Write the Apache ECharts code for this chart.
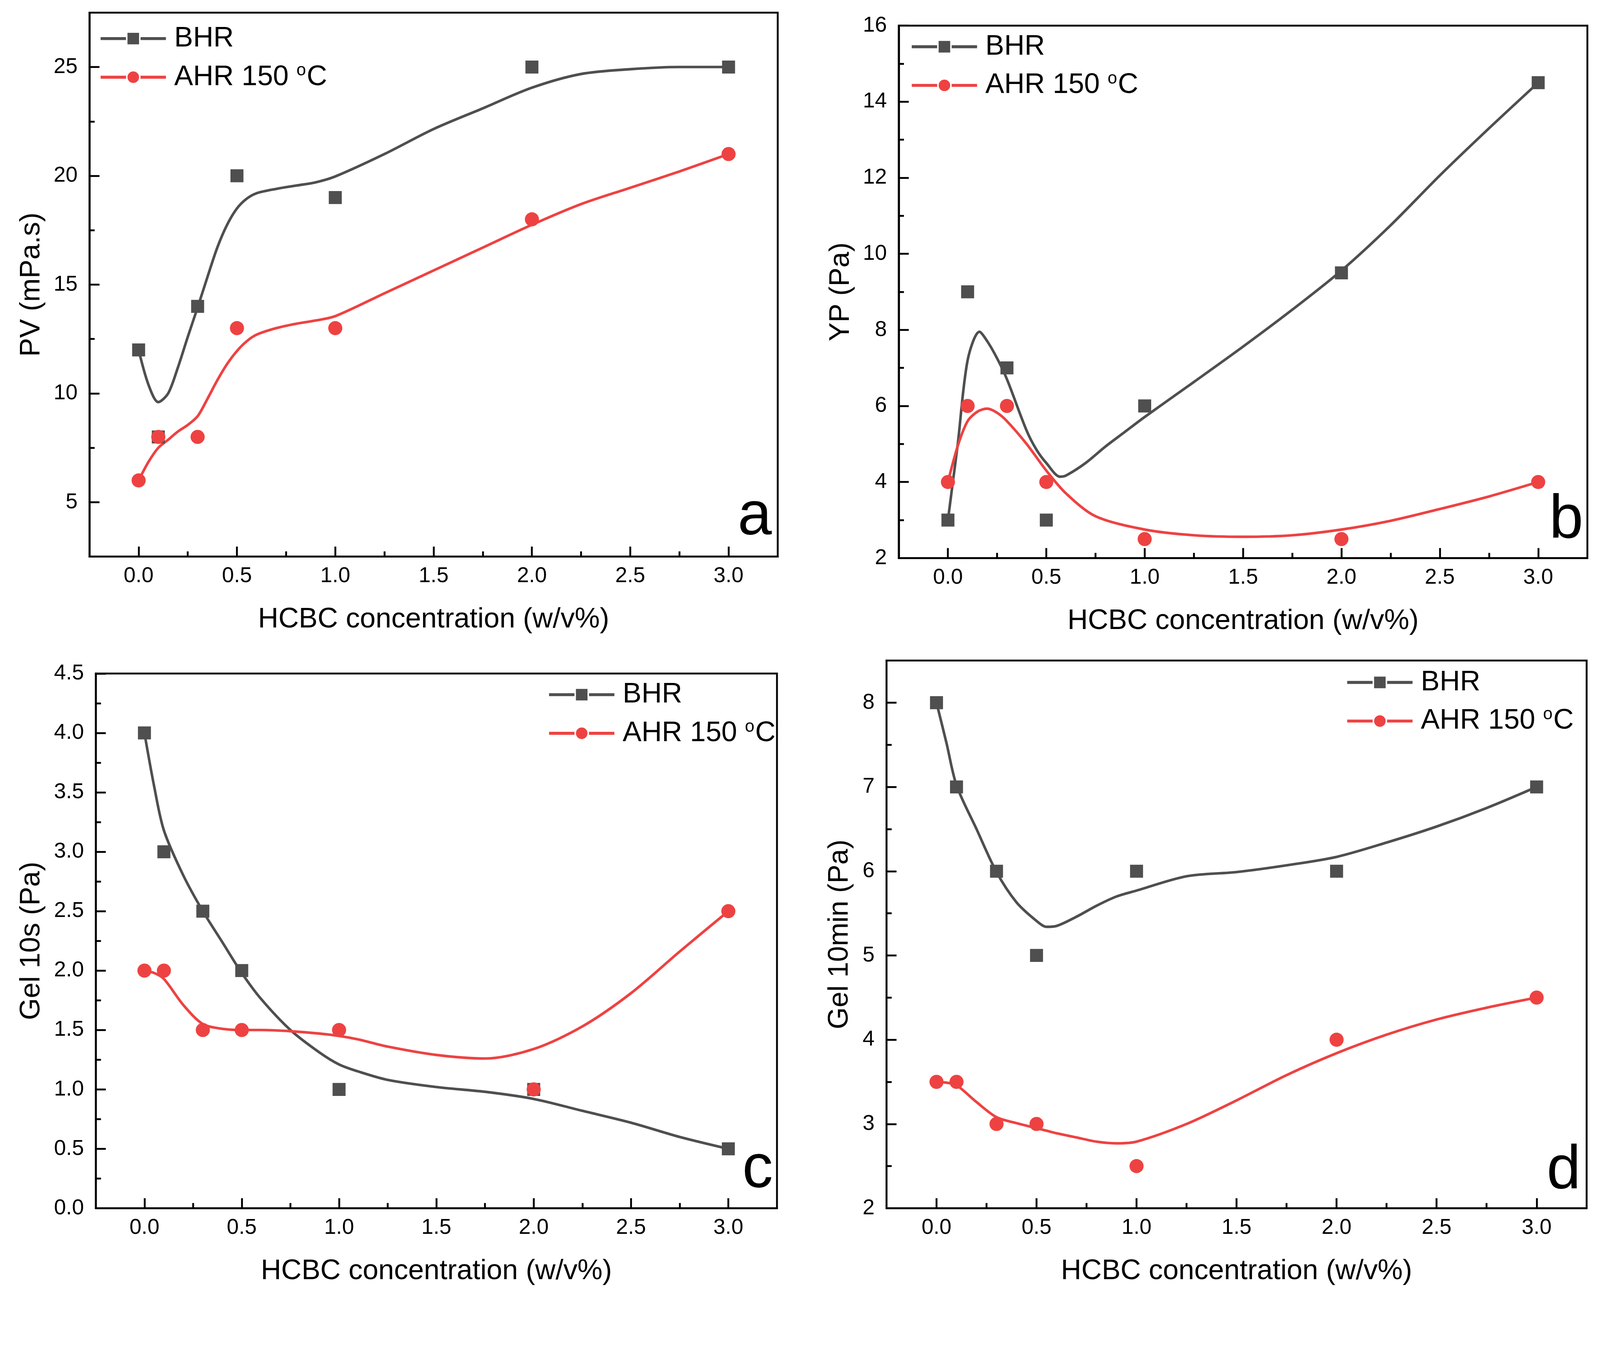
<!DOCTYPE html>
<html>
<head>
<meta charset="utf-8">
<script src="https://cdn.jsdelivr.net/npm/echarts@6/dist/echarts.min.js"></script>
<style>
html,body{margin:0;padding:0;background:#fff;overflow:hidden}
#main{width:100vw;height:100vh}
</style>
</head>
<body>
<div id="main"></div>
<script>
// measured points (HCBC concentration, w/v%)
var conc = [0, 0.1, 0.3, 0.5, 1, 2, 3];

var pvBhr = [12, 8, 14, 20, 19, 25, 25];
var pvAhr = [6, 8, 8, 13, 13, 18, 21];
var ypBhr = [3, 9, 7, 3, 6, 9.5, 14.5];
var ypAhr = [4, 6, 6, 4, 2.5, 2.5, 4];
var g10sBhr = [4, 3, 2.5, 2, 1, 1, 0.5];
var g10sAhr = [2, 2, 1.5, 1.5, 1.5, 1, 2.5];
var g10mBhr = [8, 7, 6, 5, 6, 6, 7];
var g10mAhr = [3.5, 3.5, 3, 3, 2.5, 4, 4.5];

// fitted curves
var pvFitX = [0, 0.05, 0.1, 0.15, 0.2, 0.25, 0.3, 0.35, 0.4, 0.45, 0.5, 0.55, 0.6, 0.7, 0.8, 0.9, 1.0, 1.25, 1.5, 1.75, 2.0, 2.25, 2.5, 2.75, 3.0];
var pvBhrFit = [12.0, 10.4, 9.6, 10.0, 11.2, 12.6, 13.95, 15.35, 16.7, 17.75, 18.5, 18.95, 19.2, 19.4, 19.55, 19.7, 19.97, 21.0, 22.15, 23.1, 24.05, 24.68, 24.9, 25.0, 25.0];
var pvAhrFit = [6.0, 6.85, 7.5, 7.87, 8.25, 8.55, 8.95, 9.75, 10.6, 11.35, 11.95, 12.4, 12.7, 13.0, 13.2, 13.35, 13.55, 14.6, 15.65, 16.7, 17.75, 18.7, 19.45, 20.2, 21.0];

var ypBhrX = [0, 0.025, 0.05, 0.1, 0.16, 0.2, 0.25, 0.3, 0.4, 0.45, 0.5, 0.57, 0.6, 0.7, 0.8, 0.9, 1.0, 1.25, 1.5, 1.75, 2.0, 2.25, 2.5, 2.75, 3.0];
var ypBhrFit = [3.0, 4.0, 5.0, 7.2, 7.95, 7.7, 7.25, 6.7, 5.35, 4.85, 4.5, 4.14, 4.17, 4.5, 4.93, 5.32, 5.71, 6.63, 7.56, 8.53, 9.56, 10.75, 12.06, 13.3, 14.5];
var ypAhrX = [0, 0.05, 0.1, 0.15, 0.2, 0.25, 0.3, 0.4, 0.5, 0.6, 0.75, 1.0, 1.25, 1.5, 1.75, 2.0, 2.25, 2.5, 2.75, 3.0];
var ypAhrFit = [4.0, 4.95, 5.6, 5.85, 5.93, 5.82, 5.6, 5.0, 4.3, 3.7, 3.1, 2.75, 2.6, 2.56, 2.6, 2.75, 2.98, 3.29, 3.62, 4.0];

var g10sFitX = [0, 0.05, 0.1, 0.2, 0.3, 0.4, 0.5, 0.6, 0.75, 0.9, 1.0, 1.1, 1.25, 1.5, 1.75, 2.0, 2.25, 2.5, 2.75, 3.0];
var g10sBhrFit = [4.0, 3.55, 3.18, 2.8, 2.5, 2.24, 1.98, 1.76, 1.5, 1.31, 1.21, 1.15, 1.08, 1.02, 0.98, 0.92, 0.82, 0.72, 0.6, 0.5];
var g10sAhrFit = [2.0, 1.98, 1.93, 1.71, 1.55, 1.51, 1.5, 1.5, 1.49, 1.47, 1.45, 1.42, 1.36, 1.29, 1.26, 1.34, 1.53, 1.81, 2.16, 2.5];

var g10mFitX = [0, 0.05, 0.1, 0.2, 0.3, 0.4, 0.5, 0.55, 0.6, 0.7, 0.8, 0.9, 1.0, 1.25, 1.5, 1.75, 2.0, 2.25, 2.5, 2.75, 3.0];
var g10mBhrFit = [8.0, 7.52, 7.02, 6.5, 5.99, 5.63, 5.41, 5.34, 5.35, 5.46, 5.59, 5.7, 5.77, 5.94, 5.99, 6.07, 6.17, 6.34, 6.53, 6.75, 7.0];
var g10mAhrFit = [3.5, 3.49, 3.46, 3.26, 3.08, 3.01, 2.95, 2.92, 2.89, 2.84, 2.79, 2.77, 2.79, 3.0, 3.28, 3.58, 3.84, 4.06, 4.24, 4.38, 4.5];

// tick labels
var xMajor = [0, 0.5, 1.0, 1.5, 2.0, 2.5, 3.0];
var xMinor = [0.25, 0.75, 1.25, 1.75, 2.25, 2.75];
var pvTicks = [5, 10, 15, 20, 25];
var pvMinor = [7.5, 12.5, 17.5, 22.5];
var ypTicks = [2, 4, 6, 8, 10, 12, 14, 16];
var ypMinor = [3, 5, 7, 9, 11, 13, 15];
var g10sTicks = [0, 0.5, 1.0, 1.5, 2.0, 2.5, 3.0, 3.5, 4.0, 4.5];
var g10sMinor = [0.25, 0.75, 1.25, 1.75, 2.25, 2.75, 3.25, 3.75, 4.25];
var g10mTicks = [2, 3, 4, 5, 6, 7, 8];
var g10mMinor = [2.5, 3.5, 4.5, 5.5, 6.5, 7.5];

var FONT = '"Liberation Sans", Arial, sans-serif';
var GRAY = '#4f4f4f';
var RED = '#EE4242';
var AHR = 'AHR 150 °C';

// the layout below is in reference pixels (4310 x 3486); S maps it to the window
var S = Math.min(window.innerWidth / 4310, window.innerHeight / 3486);
function px(v) { return v * S; }

function zip(xs, ys) {
    return xs.map(function (x, i) { return [x, ys[i]]; });
}

var panels = [
    { grid: [241, 34, 1854, 1465],
      yMin: 2.5, yMax: 27.5, yTicks: pvTicks, yMinor: pvMinor, yDec: 0, yName: 'PV (mPa.s)', yGap: 118,
      bhr: pvBhr, ahr: pvAhr, bhrFitX: pvFitX, bhrFit: pvBhrFit, ahrFitX: pvFitX, ahrFit: pvAhrFit,
      legend: [267, 66], tag: 'a', tagX: 2079, tagY: 1475 },
    { grid: [2421, 69, 1855, 1434],
      yMin: 2, yMax: 16, yTicks: ypTicks, yMinor: ypMinor, yDec: 0, yName: 'YP (Pa)', yGap: 118,
      bhr: ypBhr, ahr: ypAhr, bhrFitX: ypBhrX, bhrFit: ypBhrFit, ahrFitX: ypAhrX, ahrFit: ypAhrFit,
      legend: [2452, 88], tag: 'b', tagX: 4265, tagY: 1485 },
    { grid: [258, 1814, 1835, 1440],
      yMin: 0, yMax: 4.5, yTicks: g10sTicks, yMinor: g10sMinor, yDec: 1, yName: 'Gel 10s (Pa)', yGap: 135,
      bhr: g10sBhr, ahr: g10sAhr, bhrFitX: g10sFitX, bhrFit: g10sBhrFit, ahrFitX: g10sFitX, ahrFit: g10sAhrFit,
      legend: [1475, 1833], tag: 'c', tagX: 2082, tagY: 3234 },
    { grid: [2388, 1779, 1886, 1475],
      yMin: 2, yMax: 8.5, yTicks: g10mTicks, yMinor: g10mMinor, yDec: 0, yName: 'Gel 10min (Pa)', yGap: 88,
      bhr: g10mBhr, ahr: g10mAhr, bhrFitX: g10mFitX, bhrFit: g10mBhrFit, ahrFitX: g10mFitX, ahrFit: g10mAhrFit,
      legend: [3625, 1800], tag: 'd', tagX: 4258, tagY: 3237 }
];

var grids = [], xAxes = [], yAxes = [], series = [], legends = [], texts = [];

panels.forEach(function (p, i) {
    var g = p.grid;
    grids.push({ left: px(g[0]), top: px(g[1]), width: px(g[2]), height: px(g[3]),
        show: true, borderColor: '#000', borderWidth: px(5), backgroundColor: 'transparent' });

    xAxes.push({
        gridIndex: i, type: 'value', min: -0.25, max: 3.25, position: 'bottom',
        axisLine: { show: true, onZero: false, lineStyle: { color: '#000', width: px(5) } },
        axisTick: { show: true, inside: true, length: px(27), customValues: xMajor, lineStyle: { color: '#000', width: px(5) } },
        axisLabel: { customValues: xMajor, formatter: function (v) { return v.toFixed(1); },
            fontSize: px(58), color: '#000', fontFamily: FONT, margin: px(24) },
        splitLine: { show: false },
        name: 'HCBC concentration (w/v%)', nameLocation: 'middle', nameGap: px(132),
        nameTextStyle: { fontSize: px(76), color: '#000', fontFamily: FONT }
    });
    xAxes.push({
        gridIndex: i, type: 'value', min: -0.25, max: 3.25, position: 'bottom',
        axisLine: { show: false, onZero: false },
        axisTick: { show: true, inside: true, length: px(14), customValues: xMinor, lineStyle: { color: '#000', width: px(5) } },
        axisLabel: { show: false }, splitLine: { show: false }
    });

    yAxes.push({
        gridIndex: i, type: 'value', min: p.yMin, max: p.yMax, position: 'left',
        axisLine: { show: true, onZero: false, lineStyle: { color: '#000', width: px(5) } },
        axisTick: { show: true, inside: true, length: px(27), customValues: p.yTicks, lineStyle: { color: '#000', width: px(5) } },
        axisLabel: { customValues: p.yTicks, formatter: (function (d) { return function (v) { return v.toFixed(d); }; })(p.yDec),
            fontSize: px(58), color: '#000', fontFamily: FONT, margin: px(32) },
        splitLine: { show: false },
        name: p.yName, nameLocation: 'middle', nameGap: px(p.yGap),
        nameTextStyle: { fontSize: px(76), color: '#000', fontFamily: FONT }
    });
    yAxes.push({
        gridIndex: i, type: 'value', min: p.yMin, max: p.yMax, position: 'left',
        axisLine: { show: false, onZero: false },
        axisTick: { show: true, inside: true, length: px(14), customValues: p.yMinor, lineStyle: { color: '#000', width: px(5) } },
        axisLabel: { show: false }, splitLine: { show: false }
    });

    var xi = 2 * i, yi = 2 * i;
    series.push({ type: 'line', name: 'BHR', xAxisIndex: xi, yAxisIndex: yi, data: zip(p.bhrFitX, p.bhrFit),
        smooth: 0.3, symbol: 'rect', showSymbol: false, silent: true, z: 2,
        lineStyle: { color: GRAY, width: px(7) }, itemStyle: { color: GRAY } });
    series.push({ type: 'line', name: AHR, xAxisIndex: xi, yAxisIndex: yi, data: zip(p.ahrFitX, p.ahrFit),
        smooth: 0.3, symbol: 'circle', showSymbol: false, silent: true, z: 2,
        lineStyle: { color: RED, width: px(7) }, itemStyle: { color: RED } });
    series.push({ type: 'scatter', name: 'BHR', xAxisIndex: xi, yAxisIndex: yi, data: zip(conc, p.bhr),
        symbol: 'rect', symbolSize: px(35), z: 3, itemStyle: { color: GRAY, opacity: 1 } });
    series.push({ type: 'scatter', name: AHR, xAxisIndex: xi, yAxisIndex: yi, data: zip(conc, p.ahr),
        symbol: 'circle', symbolSize: px(38), z: 4, itemStyle: { color: RED, opacity: 1 } });

    legends.push({
        left: px(p.legend[0]), top: px(p.legend[1]), orient: 'vertical', selectedMode: false,
        itemWidth: px(176), itemHeight: px(44), itemGap: px(26), padding: 0,
        data: ['BHR', AHR],
        lineStyle: { width: px(8) },
        itemStyle: { borderColor: '#fff', borderWidth: px(4), opacity: 1 },
        formatter: function (name) {
            return name === 'BHR' ? '{t|BHR}' : '{t|AHR 150 }{s|o}{c|C}';
        },
        textStyle: {
            color: '#000', fontFamily: FONT, fontSize: px(76),
            rich: {
                t: { fontSize: px(76), lineHeight: px(76), fontFamily: FONT, color: '#000', padding: [0, 0, 0, px(17)] },
                s: { fontSize: px(46), lineHeight: px(76), fontFamily: FONT, color: '#000', padding: [0, px(2), px(34), 0] },
                c: { fontSize: px(76), lineHeight: px(76), fontFamily: FONT, color: '#000' }
            }
        }
    });

    texts.push({ type: 'text', x: px(p.tagX), y: px(p.tagY), z: 10,
        style: { text: p.tag, font: px(165) + 'px ' + FONT, fill: '#000', align: 'right', verticalAlign: 'bottom' } });
});

var chart = echarts.init(document.getElementById('main'), null, { renderer: 'canvas' });
chart.setOption({
    backgroundColor: '#fff',
    animation: false,
    grid: grids,
    xAxis: xAxes,
    yAxis: yAxes,
    legend: legends,
    series: series,
    graphic: texts
});
</script>
</body>
</html>
